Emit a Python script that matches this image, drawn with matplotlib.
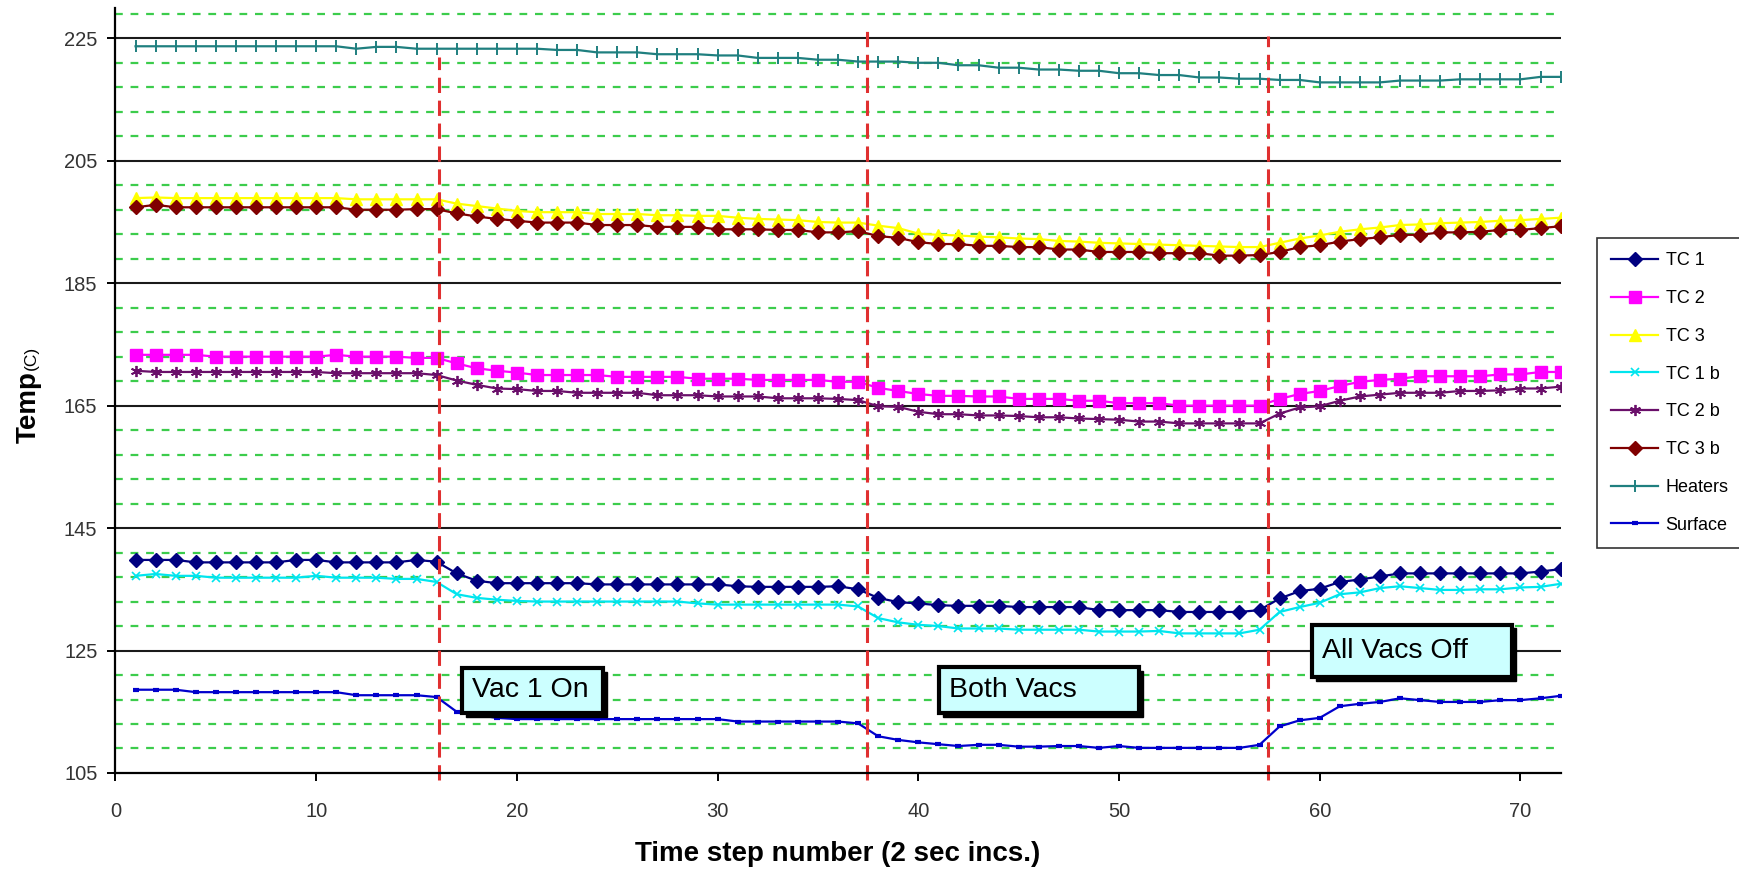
import numpy as np
import matplotlib
matplotlib.use('Agg')
import matplotlib.pyplot as plt
from matplotlib.patches import Rectangle

plt.rcParams['font.family'] = ['Liberation Sans', 'DejaVu Sans']

# time steps
steps = list(range(1, 73))

# series values
tc1 = [139.8, 139.8, 139.8, 139.4, 139.4, 139.4, 139.4, 139.4, 139.8, 139.8,
       139.4, 139.4, 139.4, 139.4, 139.8, 139.5, 137.6, 136.4, 136.0, 136.0,
       136.0, 136.0, 136.0, 135.8, 135.8, 135.8, 135.8, 135.8, 135.8, 135.8,
       135.5, 135.4, 135.4, 135.4, 135.4, 135.5, 135.0, 133.6, 132.9, 132.7,
       132.4, 132.3, 132.3, 132.3, 132.1, 132.1, 132.1, 132.1, 131.6, 131.6,
       131.6, 131.6, 131.3, 131.3, 131.3, 131.3, 131.6, 133.5, 134.7, 135.1,
       136.2, 136.6, 137.1, 137.6, 137.6, 137.6, 137.6, 137.6, 137.6, 137.6,
       137.9, 138.3]
tc2 = [173.3, 173.3, 173.3, 173.3, 173.0, 173.0, 173.0, 173.0, 173.0, 173.0,
       173.3, 173.0, 173.0, 173.0, 172.8, 172.8, 171.9, 171.1, 170.7, 170.4,
       170.0, 170.0, 170.0, 170.0, 169.7, 169.7, 169.7, 169.7, 169.4, 169.4,
       169.4, 169.2, 169.2, 169.2, 169.2, 168.9, 168.9, 167.9, 167.4, 166.9,
       166.6, 166.6, 166.5, 166.5, 166.1, 166.1, 166.1, 165.8, 165.8, 165.4,
       165.4, 165.4, 165.0, 165.0, 165.0, 165.0, 165.0, 166.1, 166.9, 167.4,
       168.2, 168.9, 169.2, 169.4, 169.8, 169.8, 169.8, 169.8, 170.1, 170.1,
       170.5, 170.5]
tc3 = [198.9, 199.0, 198.9, 198.9, 198.9, 198.9, 198.9, 198.9, 198.9, 198.9,
       198.9, 198.7, 198.7, 198.7, 198.7, 198.7, 198.0, 197.6, 197.2, 196.8,
       196.6, 196.6, 196.6, 196.3, 196.3, 196.3, 196.1, 196.1, 196.0, 196.0,
       195.7, 195.5, 195.4, 195.3, 195.0, 194.9, 194.9, 194.4, 194.0, 193.1,
       192.9, 192.8, 192.6, 192.5, 192.3, 192.2, 191.9, 191.8, 191.6, 191.5,
       191.4, 191.3, 191.2, 191.1, 191.0, 190.9, 190.9, 191.6, 192.3, 192.8,
       193.4, 193.8, 194.1, 194.5, 194.6, 194.8, 194.9, 195.0, 195.2, 195.3,
       195.5, 195.7]
tc1b = [137.2, 137.5, 137.2, 137.2, 136.9, 136.9, 136.9, 136.9, 136.9, 137.2,
        136.9, 136.9, 136.9, 136.7, 136.7, 136.2, 134.2, 133.6, 133.3, 133.1,
        133.0, 133.0, 133.0, 133.0, 133.0, 133.0, 133.0, 133.0, 132.7, 132.5,
        132.5, 132.5, 132.5, 132.5, 132.5, 132.5, 132.2, 130.3, 129.6, 129.2,
        129.0, 128.6, 128.6, 128.6, 128.4, 128.4, 128.4, 128.4, 128.1, 128.1,
        128.1, 128.2, 127.8, 127.8, 127.8, 127.8, 128.4, 131.3, 132.1, 132.8,
        134.2, 134.5, 135.2, 135.5, 135.2, 134.9, 134.9, 135.0, 135.0, 135.3,
        135.4, 135.9]
tc2b = [170.7, 170.5, 170.5, 170.5, 170.5, 170.5, 170.5, 170.5, 170.5, 170.5,
        170.3, 170.3, 170.3, 170.3, 170.3, 170.0, 169.1, 168.4, 167.8, 167.7,
        167.4, 167.4, 167.1, 167.1, 167.1, 167.1, 166.7, 166.7, 166.7, 166.5,
        166.5, 166.5, 166.2, 166.2, 166.2, 166.1, 165.9, 164.9, 164.8, 164.0,
        163.6, 163.6, 163.4, 163.4, 163.3, 163.1, 163.1, 162.9, 162.8, 162.7,
        162.4, 162.4, 162.1, 162.1, 162.1, 162.1, 162.1, 163.7, 164.7, 164.9,
        165.8, 166.5, 166.8, 167.1, 167.1, 167.1, 167.4, 167.4, 167.5, 167.8,
        167.8, 168.1]
tc3b = [197.4, 197.8, 197.4, 197.4, 197.4, 197.4, 197.4, 197.4, 197.4, 197.4,
        197.4, 197.0, 197.0, 197.0, 197.1, 197.1, 196.4, 195.9, 195.5, 195.2,
        194.9, 194.9, 194.9, 194.5, 194.5, 194.5, 194.2, 194.2, 194.2, 193.8,
        193.8, 193.8, 193.7, 193.7, 193.3, 193.3, 193.5, 192.7, 192.4, 191.7,
        191.4, 191.4, 191.1, 191.1, 190.9, 190.9, 190.5, 190.5, 190.1, 190.1,
        190.1, 189.9, 189.9, 189.9, 189.5, 189.5, 189.6, 190.1, 190.9, 191.2,
        191.8, 192.2, 192.5, 192.9, 192.9, 193.3, 193.3, 193.4, 193.7, 193.7,
        194.0, 194.3]
heaters = [223.7, 223.7, 223.7, 223.7, 223.7, 223.7, 223.7, 223.7, 223.7, 223.7,
           223.7, 223.3, 223.6, 223.6, 223.3, 223.3, 223.3, 223.3, 223.3, 223.3,
           223.3, 223.1, 223.1, 222.7, 222.7, 222.7, 222.4, 222.4, 222.4, 222.2,
           222.2, 221.8, 221.8, 221.8, 221.5, 221.5, 221.2, 221.2, 221.2, 221.0,
           221.0, 220.6, 220.6, 220.2, 220.2, 219.9, 219.9, 219.7, 219.7, 219.3,
           219.3, 219.0, 219.0, 218.6, 218.6, 218.4, 218.4, 218.2, 218.2, 217.8,
           217.8, 217.8, 217.8, 218.1, 218.1, 218.1, 218.3, 218.3, 218.3, 218.3,
           218.7, 218.7]
surface = [118.6, 118.6, 118.6, 118.2, 118.2, 118.2, 118.2, 118.2, 118.2, 118.2,
           118.2, 117.7, 117.7, 117.7, 117.7, 117.4, 115.0, 114.5, 114.0, 113.8,
           113.8, 113.8, 113.8, 113.8, 113.8, 113.8, 113.8, 113.8, 113.8, 113.8,
           113.4, 113.4, 113.4, 113.4, 113.4, 113.4, 113.1, 111.0, 110.4, 110.0,
           109.7, 109.4, 109.6, 109.6, 109.3, 109.3, 109.4, 109.4, 109.1, 109.4,
           109.1, 109.1, 109.1, 109.1, 109.1, 109.1, 109.6, 112.6, 113.6, 114.0,
           115.9, 116.3, 116.6, 117.2, 116.9, 116.6, 116.6, 116.6, 116.9, 116.9,
           117.2, 117.6]

# vacuum events (step where the dashed line sits, top of line) and labels
event_steps = [16.13, 37.44, 57.43]
event_tops = [222.0, 226.9, 225.3]
event_labels = ['Vac 1 On', 'Both Vacs', 'All Vacs Off']

y_ticks = [105, 125, 145, 165, 185, 205, 225]
x_ticks = [0, 10, 20, 30, 40, 50, 60, 70]

fig = plt.figure(figsize=(17.39, 8.75), dpi=100)
ax = fig.add_axes([0.0664, 0.1166, 0.831, 0.8746])

# gridlines: black majors every 20, green dashed minors every 4
minor = [v for v in np.arange(109, 230, 4) if v not in y_ticks]
for v in y_ticks[1:]:
    ax.axhline(v, color='#1a1a1a', lw=1.5, zorder=1)
for v in minor:
    ax.axhline(v, color='#3ccc4c', lw=1.6, dashes=(3.5, 3.5), zorder=1)

# series
ax.plot(steps, tc1, color='#000080', lw=1.6, marker='D', ms=7, zorder=4, label='TC 1')
ax.plot(steps, tc2, color='#ff00ff', lw=1.6, marker='s', ms=8, zorder=4, label='TC 2')
ax.plot(steps, tc3, color='#ffff00', lw=1.6, marker='^', ms=8, zorder=3, label='TC 3')
ax.plot(steps, tc1b, color='#00e5ee', lw=1.6, marker='x', ms=6, mew=1.2, zorder=3, label='TC 1 b')
ax.plot(steps, tc2b, color='#6a0f6a', lw=1.6, marker=(6, 2, 0), ms=8, mew=1.3, zorder=4, label='TC 2 b')
ax.plot(steps, tc3b, color='#800000', lw=1.6, marker='D', ms=7, zorder=4, label='TC 3 b')
ax.plot(steps, heaters, color='#1f7f7f', lw=1.6, marker='|', ms=9, mew=1.4, zorder=4, label='Heaters')
ax.plot(steps, surface, color='#0000cc', lw=1.6, marker='_', ms=5, mew=3, zorder=4, label='Surface')

# red dashed event lines
for xs, top in zip(event_steps, event_tops):
    ax.plot([xs, xs], [103.8, top], color='#e03030', lw=2.2, dashes=(5, 2.5),
            zorder=5, clip_on=False)

# event boxes
boxes = [(17.26, 114.8, 7.03, 7.35), (41.03, 114.8, 9.97, 7.5), (59.62, 120.7, 9.96, 8.5)]
for (bx, by, bw, bh), label in zip(boxes, event_labels):
    ax.add_patch(Rectangle((bx + 0.18, by - 0.6), bw, bh, facecolor='black',
                           edgecolor='black', lw=1, zorder=6))
    ax.add_patch(Rectangle((bx, by), bw, bh, facecolor='#ccffff',
                           edgecolor='black', lw=3, zorder=7))
    ax.text(bx + 0.5, by + bh / 2, label, fontsize=20.5, ha='left', va='center',
            color='black', zorder=8)

ax.set_xlim(0, 72)
ax.set_ylim(105, 230)
ax.set_xticks(x_ticks)
ax.set_yticks(y_ticks)
ax.tick_params(axis='x', length=6, width=1.4, pad=15, labelsize=14.5, labelcolor='#333333')
ax.tick_params(axis='y', length=6, width=1.4, pad=7, labelsize=14.5, labelcolor='#333333')
for side in ['top', 'right']:
    ax.spines[side].set_visible(False)
for side in ['left', 'bottom']:
    ax.spines[side].set_linewidth(1.6)
    ax.spines[side].set_zorder(6)

ax.set_xlabel('Time step number (2 sec incs.)', fontsize=20, fontweight='bold', labelpad=14)

# y label with small (C) right after it
temp = fig.text(36 / 1739, 1 - 443 / 875, 'Temp', rotation=90, rotation_mode='anchor',
                ha='left', va='baseline', fontsize=20, fontweight='bold')
fig.canvas.draw()
top_px = temp.get_window_extent().y1
fig.text(36 / 1739, (top_px + 1) / 875, '(C)', rotation=90, rotation_mode='anchor',
         ha='left', va='baseline', fontsize=12.5)

leg = ax.legend(loc='upper left', bbox_to_anchor=(0.9183, 0.728),
                bbox_transform=fig.transFigure, borderaxespad=0, fontsize=13,
                frameon=True, fancybox=False, edgecolor='black', handlelength=2.6,
                labelspacing=1.15, borderpad=0.8, handletextpad=0.4)
leg.get_frame().set_linewidth(1.2)

plt.savefig('out.png', dpi=100)
